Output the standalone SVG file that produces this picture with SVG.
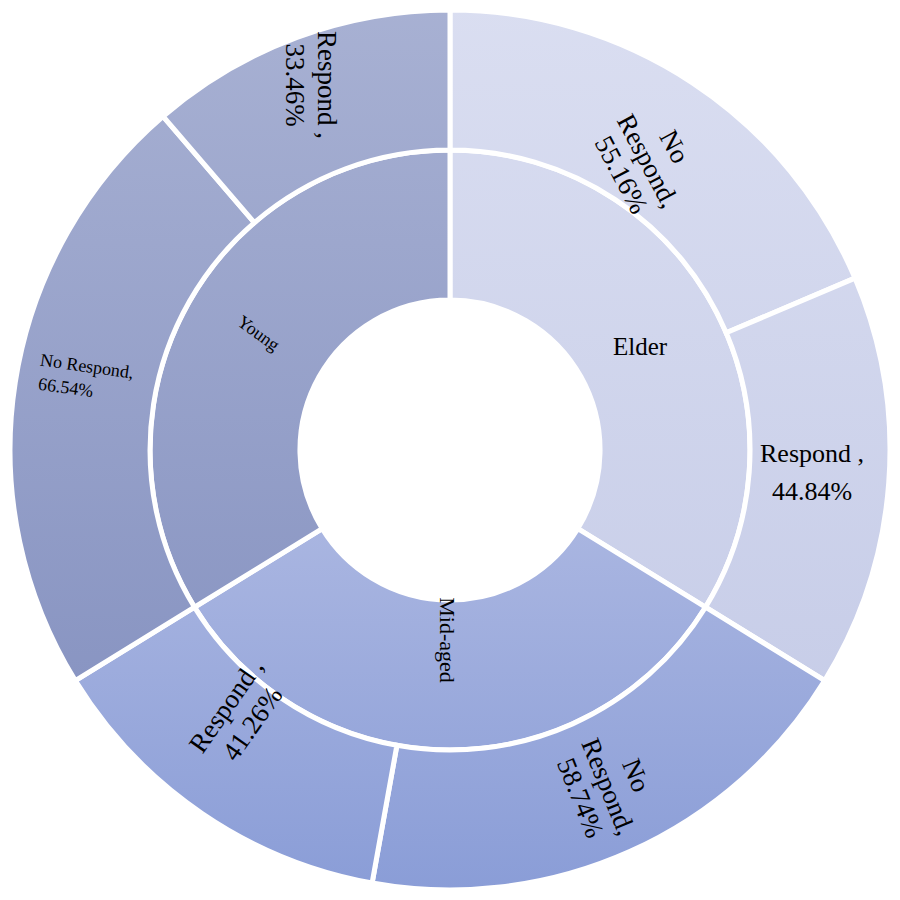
<svg xmlns="http://www.w3.org/2000/svg" width="900" height="900" viewBox="0 0 900 900">
<defs>
<linearGradient id="gY" x1="0" y1="0" x2="0" y2="900" gradientUnits="userSpaceOnUse"><stop offset="0" stop-color="#a8b1d3"/><stop offset="1" stop-color="#7f8cbd"/></linearGradient>
<linearGradient id="gM" x1="0" y1="520" x2="0" y2="890" gradientUnits="userSpaceOnUse"><stop offset="0" stop-color="#aab6e1"/><stop offset="1" stop-color="#8a9dd7"/></linearGradient>
<linearGradient id="gE" x1="0" y1="0" x2="0" y2="700" gradientUnits="userSpaceOnUse"><stop offset="0" stop-color="#dadef1"/><stop offset="1" stop-color="#c7cde8"/></linearGradient>
<style>
path{stroke:#fff;stroke-width:5;stroke-linejoin:miter}
text{font-family:"Liberation Serif",serif;fill:#000;text-anchor:middle}
</style>
</defs>
<rect width="900" height="900" fill="#fff"/>
<g id="elder"><path fill="url(#gE)" d="M450,150 A300,300 0 0 1 705.5,607.2 L577.8,528.6 A150,150 0 0 0 450,300 Z"/><text x="640" y="355" font-size="25">Elder</text></g>
<g id="midaged"><path fill="url(#gM)" d="M705.5,607.2 A300,300 0 0 1 194.5,607.2 L322.2,528.6 A150,150 0 0 0 577.8,528.6 Z"/><text transform="translate(440,640) rotate(90)" font-size="22">Mid-aged</text></g>
<g id="young"><path fill="url(#gY)" d="M194.5,607.2 A300,300 0 0 1 450,150 L450,300 A150,150 0 0 0 322.2,528.6 Z"/><text transform="translate(255,338) rotate(36)" font-size="18">Young</text></g>
<g id="elder-norespond"><path fill="url(#gE)" d="M450,10 A440,440 0 0 1 855,278.1 L726.2,332.8 A300,300 0 0 0 450,150 Z"/><text transform="translate(640,165) rotate(62)" font-size="27"><tspan x="0" y="-30">No</tspan><tspan x="0" y="0">Respond,</tspan><tspan x="0" y="30">55.16%</tspan></text></g>
<g id="elder-respond"><path fill="url(#gE)" d="M855,278.1 A440,440 0 0 1 824.7,680.6 L705.5,607.2 A300,300 0 0 0 726.2,332.8 Z"/><text x="812" y="462" font-size="26">Respond ,</text><text x="812" y="500" font-size="26">44.84%</text></g>
<g id="mid-norespond"><path fill="url(#gM)" d="M824.7,680.6 A440,440 0 0 1 372.1,883 L396.9,745.3 A300,300 0 0 0 705.5,607.2 Z"/><text transform="translate(600,790) rotate(68)" font-size="27"><tspan x="0" y="-30">No</tspan><tspan x="0" y="0">Respond,</tspan><tspan x="0" y="30">58.74%</tspan></text></g>
<g id="mid-respond"><path fill="url(#gM)" d="M372.1,883 A440,440 0 0 1 75.3,680.6 L194.5,607.2 A300,300 0 0 0 396.9,745.3 Z"/><text transform="translate(240,715) rotate(-55)" font-size="27"><tspan x="0" y="-8">Respond ,</tspan><tspan x="0" y="24">41.26%</tspan></text></g>
<g id="young-norespond"><path fill="url(#gY)" d="M75.3,680.6 A440,440 0 0 1 163.1,116.4 L254.4,222.6 A300,300 0 0 0 194.5,607.2 Z"/><text transform="translate(85,380) rotate(8)" font-size="18"><tspan x="0" y="-8">No Respond,</tspan><tspan x="-18" y="16">66.54%</tspan></text></g>
<g id="young-respond"><path fill="url(#gY)" d="M163.1,116.4 A440,440 0 0 1 450,10 L450,150 A300,300 0 0 0 254.4,222.6 Z"/><text transform="translate(318,85) rotate(90)" font-size="27"><tspan x="0" y="0">Respond ,</tspan><tspan x="0" y="32">33.46%</tspan></text></g>
<g id="connectors"/>
</svg>
